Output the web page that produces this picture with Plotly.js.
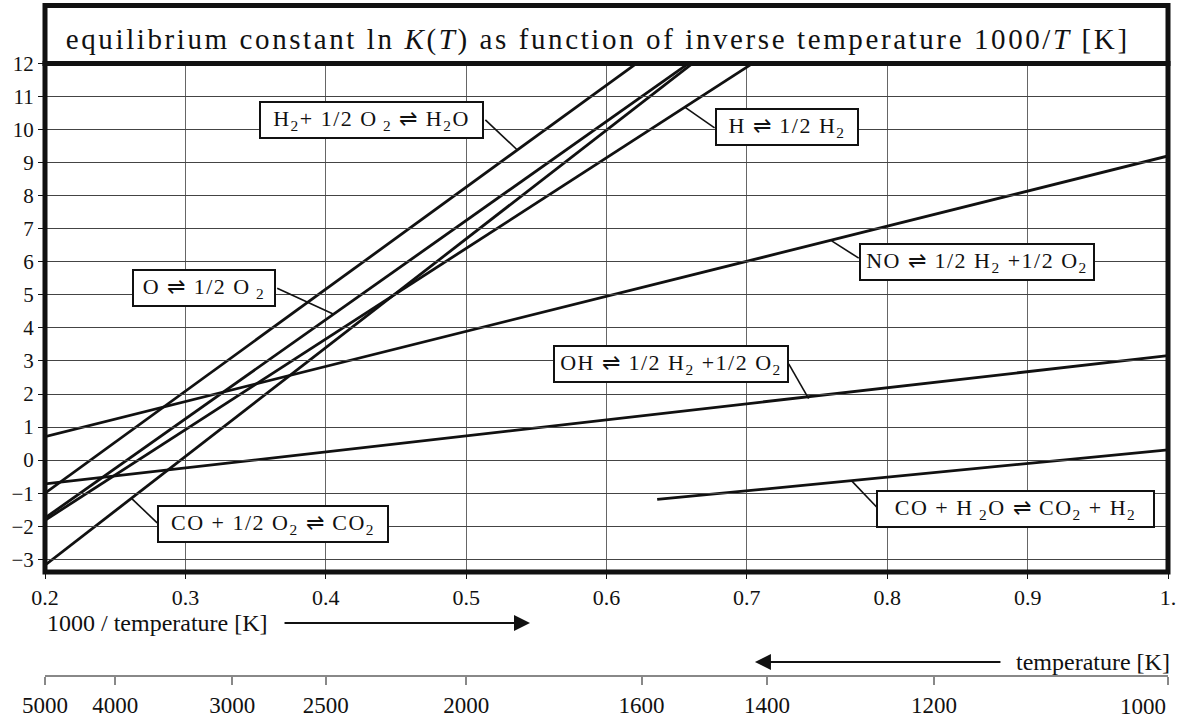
<!DOCTYPE html>
<html><head><meta charset="utf-8">
<script src="https://cdn.plot.ly/plotly-3.0.1.min.js"></script>
<style>html,body{margin:0;padding:0;background:#fff;}#c{width:1178px;height:717px;}</style>
</head><body><div id="c"></div>
<script>
// ---- data ----
const invT_H2O = [0.2, 0.6214];   const lnK_H2O = [-1.0, 12];
const invT_O   = [0.2, 0.6585];   const lnK_O   = [-1.75, 12];
const invT_CO  = [0.2, 0.6613];   const lnK_CO  = [-3.18, 12];
const invT_H   = [0.2, 0.7041];   const lnK_H   = [-1.82, 12];
const invT_NO  = [0.2, 1.0];      const lnK_NO  = [0.71, 9.2];
const invT_OH  = [0.2, 1.0];      const lnK_OH  = [-0.72, 3.16];
const invT_WGS = [0.6361, 1.0];   const lnK_WGS = [-1.19, 0.31];

const xTickVals = [0.2,0.3,0.4,0.5,0.6,0.7,0.8,0.9,1.0];
const xTickText = ['0.2','0.3','0.4','0.5','0.6','0.7','0.8','0.9','1.'];
const yTickVals = [-3,-2,-1,0,1,2,3,4,5,6,7,8,9,10,11,12];
const temperatures = [5000,4000,3000,2500,2000,1600,1400,1200,1000];
const tempTickText = ['5000','4000','3000','2500','2000','1600','1400','1200',''];
const lastTempLabel = '1000';

const labelTexts = [
  'H<sub>2</sub>+ 1/2 O<sub> 2</sub> \u21CC H<sub>2</sub>O',
  'H \u21CC 1/2 H<sub>2</sub>',
  'O \u21CC 1/2 O<sub> 2</sub>',
  'OH \u21CC 1/2 H<sub>2</sub> +1/2 O<sub>2</sub>',
  'NO \u21CC 1/2 H<sub>2</sub> +1/2 O<sub>2</sub>',
  'CO + 1/2 O<sub>2</sub> \u21CC CO<sub>2</sub>',
  'CO + H<sub> 2</sub>O \u21CC CO<sub>2</sub> + H<sub>2</sub>'
];

// ---- layout placements ----
const labelPos = [ // [boxX, boxY, boxW, leaderX0, leaderY0, leaderX1, leaderY1]
  [0.4328, 10.29, 225, 0.5137, 10.29, 0.5365, 9.38],
  [0.7283, 10.08, 144, 0.6770, 10.05, 0.6563, 10.66],
  [0.3134, 5.22, 144, 0.3654, 5.20, 0.4053, 4.42],
  [0.6456, 2.91, 236, 0.7298, 2.91, 0.7440, 1.86],
  [0.8638, 5.98, 236, 0.7797, 6.11, 0.7604, 6.63],
  [0.3626, -1.93, 232, 0.2799, -1.90, 0.2620, -1.17],
  [0.8914, -1.48, 279, 0.7924, -1.42, 0.7745, -0.62]
];

const serif = 'Liberation Serif, Times New Roman, serif';
const ink = '#111';
const lineStyle = {color:ink, width:2.8};
const series = [
  [invT_H2O, lnK_H2O],[invT_O, lnK_O],[invT_CO, lnK_CO],[invT_H, lnK_H],
  [invT_NO, lnK_NO],[invT_OH, lnK_OH],[invT_WGS, lnK_WGS]
];
const traces = series.map(s => ({x:s[0], y:s[1], type:'scatter', mode:'lines', line:lineStyle, hoverinfo:'skip', showlegend:false}));
// invisible trace carrying the temperature axis
traces.push({x:[1000/temperatures[0]], y:[0], xaxis:'x2', yaxis:'y', mode:'markers', marker:{opacity:0}, showlegend:false, hoverinfo:'skip'});

const annotations = [];
const shapes = [];
labelTexts.forEach((t,i)=>{
  const p = labelPos[i];
  annotations.push({x:p[0], y:p[1], xref:'x', yref:'y', text:t, showarrow:false,
    font:{family:serif, size:22, color:ink}, bgcolor:'#fff', bordercolor:ink, borderwidth:2,
    borderpad:0, width:p[2]-4, height:34, align:'center', valign:'middle'});
  shapes.push({type:'line', xref:'x', yref:'y', x0:p[3], y0:p[4], x1:p[5], y1:p[6], line:{color:ink, width:1.6}});
});
// frame
shapes.push({type:'rect', xref:'x domain', yref:'y domain', x0:0, x1:1, y0:0, y1:1, line:{color:ink, width:5}});
shapes.push({type:'rect', xref:'x domain', yref:'paper', x0:0, x1:1, y0:0.90621, y1:0.99186, line:{color:ink, width:5}});

annotations.push({xref:'paper', yref:'paper', x:0.492, y:0.94083, showarrow:false,
  text:'equilibrium constant ln <i>K</i>(<i>T</i>) as function of inverse temperature 1000/<i>T</i> [K]',
  font:{family:serif, size:29, color:ink}, xanchor:'center', yanchor:'middle'});
annotations.push({xref:'paper', yref:'paper', x:0, y:0.0784, showarrow:false, text:'1000 / temperature [K]',
  font:{family:serif, size:24, color:ink}, xanchor:'left', yanchor:'middle'});
annotations.push({xref:'paper', yref:'paper', x:0.4319, y:0.0784, ax:-247, ay:0, text:'', showarrow:true,
  arrowhead:2, arrowsize:1.6, arrowwidth:2, arrowcolor:ink});
annotations.push({xref:'paper', yref:'paper', x:1.0036, y:0.0207, showarrow:false, text:'temperature [K]',
  font:{family:serif, size:24, color:ink}, xanchor:'right', yanchor:'middle'});
annotations.push({xref:'paper', yref:'paper', x:0.6322, y:0.0207, ax:247, ay:0, text:'', showarrow:true,
  arrowhead:2, arrowsize:1.6, arrowwidth:2, arrowcolor:ink});
annotations.push({xref:'paper', yref:'paper', x:1.0, y:-0.0444, showarrow:false, text:lastTempLabel,
  font:{family:serif, size:23, color:ink}, xanchor:'right', yanchor:'middle'});

const layout = {
  width:1178, height:717, paper_bgcolor:'#fff', plot_bgcolor:'rgba(0,0,0,0)',
  margin:{l:45, r:10, t:0, b:41},
  showlegend:false,
  font:{family:serif, size:21, color:ink},
  xaxis:{domain:[0,1], range:[0.2,1.0], tickvals:xTickVals, ticktext:xTickText,
    ticks:'outside', ticklen:6, tickcolor:ink, showgrid:true, gridcolor:'#666', gridwidth:1,
    zeroline:false, showline:false, tickfont:{family:serif, size:22, color:ink}},
  yaxis:{domain:[0.15385,0.90621], range:[-3.384,12], tickvals:yTickVals,
    ticks:'outside', ticklen:6, tickcolor:ink, showgrid:true, gridcolor:'#444', gridwidth:1,
    zeroline:false, showline:false, tickfont:{family:serif, size:21, color:ink}},
  xaxis2:{domain:[0,1], range:[0.2,1.0], anchor:'free', position:0,
    tickvals:temperatures.map(T => 1000/T), ticktext:tempTickText, ticks:'outside', ticklen:8, tickcolor:'#888', tickwidth:2,
    showline:true, linecolor:'#888', linewidth:2, showgrid:false, zeroline:false,
    tickfont:{family:serif, size:23, color:ink}},
  shapes:shapes, annotations:annotations
};
Plotly.newPlot('c', traces, layout, {staticPlot:true, displayModeBar:false}).then(()=>{
  document.querySelectorAll('text.annotation-text').forEach(el=>{
    const raw = el.getAttribute('data-unformatted') || '';
    if (raw.indexOf('equilibrium') === 0) el.style.letterSpacing = '2.6px';
    else if (raw.indexOf('\u21CC') >= 0) el.style.letterSpacing = '1.5px';
  });
});
</script></body></html>
